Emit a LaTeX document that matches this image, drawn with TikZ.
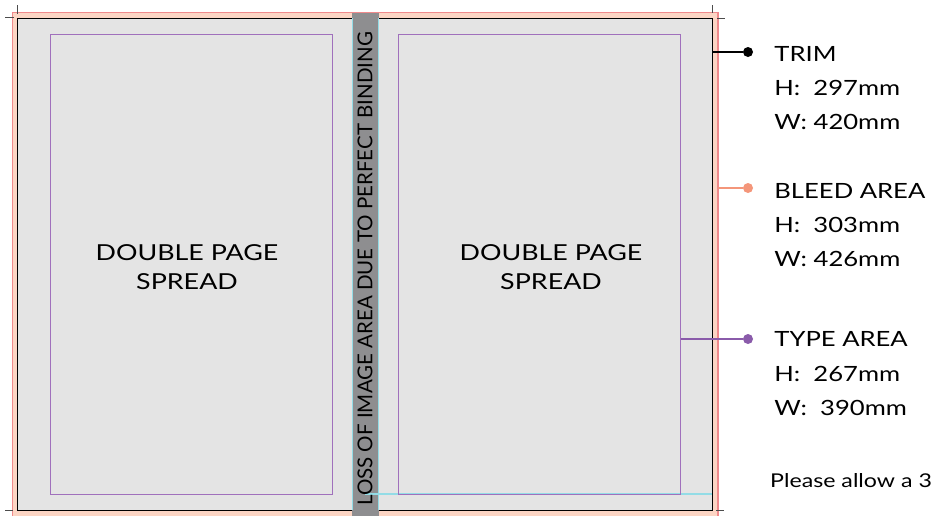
\documentclass[tikz,border=0pt]{standalone}
\usepackage{fontspec}
\setmainfont{Lato}
\newfontfamily\widefont[FakeStretch=1.22]{Lato}
\usetikzlibrary{positioning}
\definecolor{bleedfill}{HTML}{FCD5C4}
\definecolor{bleedline}{HTML}{F08A8C}
\definecolor{trimfill}{HTML}{E4E4E4}
\definecolor{typeline}{HTML}{A070BC}
\definecolor{spinegray}{HTML}{8E8E90}
\definecolor{spinecyan}{HTML}{93DCE6}
\definecolor{bleeddot}{HTML}{F4967A}
\definecolor{typedot}{HTML}{8A5BAA}
\tikzstyle{typebox} = [rectangle, draw=typeline, line width=1pt, inner sep=0pt,
    minimum width=282pt, minimum height=460pt]
\tikzstyle{pagetext} = [align=center, font=\widefont\fontsize{22}{29.5}\selectfont]
\tikzstyle{dot} = [circle, inner sep=0pt, minimum size=10pt]
\tikzstyle{spec} = [align=left, inner sep=0pt, font=\widefont\fontsize{21}{34}\selectfont]
\tikzstyle{line} = [draw, line width=2pt]
\tikzstyle{crop} = [draw=black!70, line width=1pt]

\begin{document}
\begin{tikzpicture}[x=1pt, y=-1pt]
  \useasboundingbox (0,0) rectangle (932,515);
   % Sheet
    \draw[bleedline, fill=bleedfill, line width=1.2pt] (12.5,12.5) rectangle (718,518);
    \draw[fill=trimfill, line width=1pt] (17.5,18) rectangle (712.5,510.5);
    \fill[spinegray] (352,13) rectangle (379,518);
    \draw[spinecyan, line width=1pt] (352.5,18) -- (352.5,510) (378.5,18) -- (378.5,510);
    \draw[spinecyan, line width=2pt] (365,493.5) -- (712,493.5);
    \draw[crop] (5,17.5) -- (14,17.5) (17.5,5) -- (17.5,14);
    \draw[crop] (712.5,5) -- (712.5,13) (717,18) -- (725,18);
    \draw[crop] (5,510.5) -- (13,510.5) (716,510.5) -- (724,510.5);
   % Place nodes
    \node [typebox] (typeL) at (191,264) {};
    \node [typebox] (typeR) at (539,264) {};
    \node [pagetext] (spreadL) at (187,267) {DOUBLE PAGE\\SPREAD};
    \node [pagetext] (spreadR) at (551,267) {DOUBLE PAGE\\SPREAD};
    \node [rotate=90, inner sep=0pt, font=\fontsize{20.5}{21}\selectfont] (spine) at (365,269)
      {LOSS OF IMAGE AREA DUE TO PERFECT BINDING};
    \node [dot, fill=black] (trimdot) at (748,52) {};
    \node [dot, fill=bleeddot] (bleeddot) at (748,188) {};
    \node [dot, fill=typedot] (typedot) at (748,339) {};
    \coordinate (trimedge) at (712.5,52);
    \coordinate (bleededge) at (718,188);
    \node [spec, right=21pt of trimdot, yshift=-1.5pt] (trim) {TRIM};
    \node [spec, below right=19pt and 0pt of trim.south west] (trimsize) {H:\ \ 297mm\\W: 420mm};
    \node [spec, right=21pt of bleeddot, yshift=-2.5pt] (bleed) {BLEED AREA};
    \node [spec, below right=19pt and 0pt of bleed.south west] (bleedsize) {H:\ \ 303mm\\W: 426mm};
    \node [spec, right=21pt of typedot] (type) {TYPE AREA};
    \node [spec, below right=19pt and 0pt of type.south west] (typesize) {H:\ \ 267mm\\W:\ \ 390mm};
    \node [spec, anchor=west, font=\widefont\fontsize{19}{24}\selectfont] (note) at (770,481) {Please allow a 3};
   % Draw edges
    \path [line, black] (trimedge) -- (trimdot);
    \path [line, bleeddot] (bleededge) -- (bleeddot);
    \path [line, typedot] (typeR.east |- typedot) -- (typedot);
  \end{tikzpicture}
\end{document}
